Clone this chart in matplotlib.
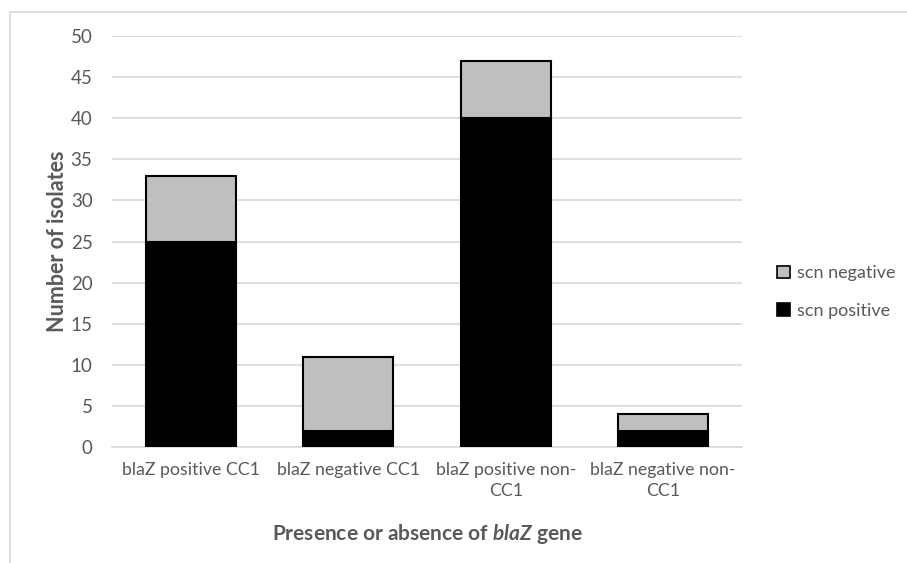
import matplotlib
matplotlib.use('Agg')
import matplotlib.pyplot as plt
import numpy as np
from matplotlib.lines import Line2D
from matplotlib.patches import Patch

# data
categories = ['blaZ positive CC1', 'blaZ negative CC1', 'blaZ positive non-\nCC1', 'blaZ negative non-\nCC1']
scn_positive = [25, 2, 40, 2]
scn_negative = [8, 9, 7, 2]
y_ticks = [0, 5, 10, 15, 20, 25, 30, 35, 40, 45, 50]

plt.rcParams['font.family'] = ['Lato', 'DejaVu Sans']
plt.rcParams['mathtext.fontset'] = 'custom'
plt.rcParams['mathtext.it'] = 'Lato:bold:italic'
plt.rcParams['mathtext.rm'] = 'Lato:bold'

text_grey = '#595959'
grid_grey = '#d9d9d9'

fig = plt.figure(figsize=(9.07, 5.63), dpi=100)
ax = fig.add_axes([0.1235, 0.206, 0.6945, 0.730])

x = np.arange(len(categories))
width = 0.57
ax.bar(x, scn_positive, width, color='black', edgecolor='black', linewidth=1.5, zorder=3)
ax.bar(x, scn_negative, width, bottom=scn_positive, color='#bfbfbf', edgecolor='black',
       linewidth=1.5, zorder=3)

ax.set_xlim(-0.5, len(categories) - 0.5)
ax.set_ylim(0, 50)
ax.set_yticks(y_ticks)
ax.set_xticks(x)
ax.set_xticklabels(categories, fontsize=12.8, color=text_grey, linespacing=1.4)
ax.tick_params(axis='y', labelsize=13.5, labelcolor=text_grey, length=0, pad=14)
ax.tick_params(axis='x', length=0, pad=11)
ax.yaxis.grid(True, color=grid_grey, linewidth=1.2, zorder=0)
for s in ['top', 'right', 'left']:
    ax.spines[s].set_visible(False)
ax.spines['bottom'].set_color(grid_grey)
ax.spines['bottom'].set_linewidth(1.2)

ax.set_ylabel('Number of isolates', fontsize=15.5, fontweight='bold', color=text_grey, labelpad=2)
ax.set_xlabel(r'Presence or absence of $\it{blaZ}$ gene', fontsize=15, fontweight='bold',
              color=text_grey, labelpad=16)

handles = [Patch(facecolor='#bfbfbf', edgecolor='black', linewidth=1.2),
           Patch(facecolor='black', edgecolor='black', linewidth=1.2)]
leg = ax.legend(handles, ['scn negative', 'scn positive'], loc='center left',
                bbox_to_anchor=(1.03, 0.377), frameon=False, fontsize=13,
                handlelength=0.7, handleheight=0.7, handletextpad=0.4, labelspacing=1.2)
for t in leg.get_texts():
    t.set_color(text_grey)

# outer chart border (cut off at right and bottom)
fig.add_artist(Line2D([0.011, 1.0], [0.9787, 0.9787], color='#d9d9d9', linewidth=1.2))
fig.add_artist(Line2D([0.011, 0.011], [0.0, 0.9787], color='#d9d9d9', linewidth=1.2))

fig.savefig('out.png', dpi=100)
